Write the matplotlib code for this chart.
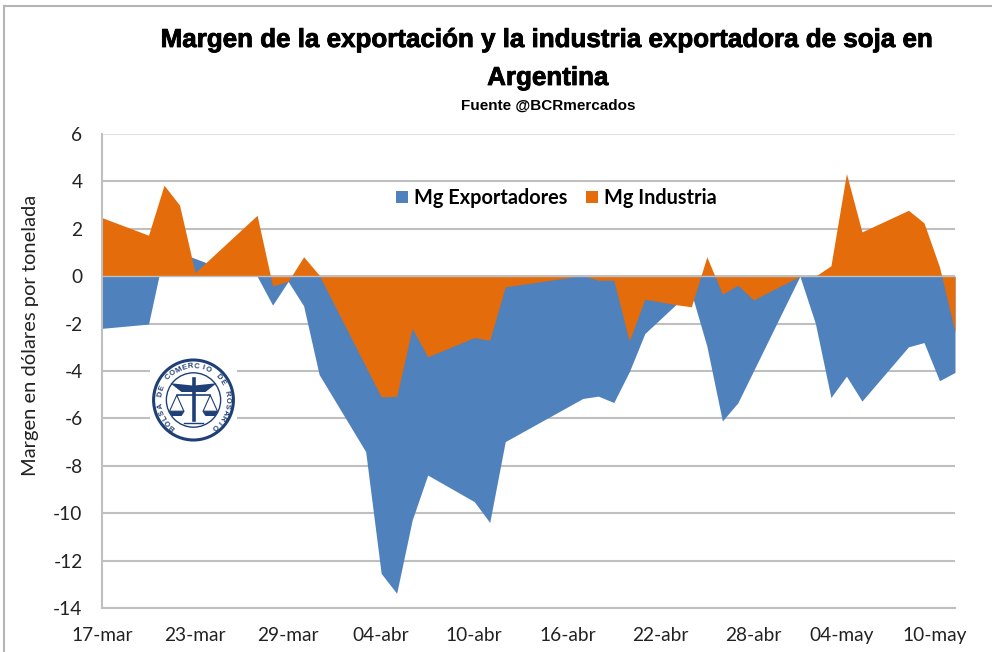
import numpy as np
import matplotlib
matplotlib.use('Agg')
import matplotlib.pyplot as plt
import matplotlib.patheffects as pe
from matplotlib.lines import Line2D
from matplotlib.patches import Circle, Polygon

plt.rcParams['axes.unicode_minus'] = False

# dias contados desde el 17-mar
dias_exp = [0, 3, 4, 5, 6, 7, 10, 11, 12, 13, 14, 17, 18, 19, 20, 21, 24, 25, 26,
            31, 32, 33, 34, 35, 37, 38, 39, 40, 41, 45, 46, 47, 48, 49, 52, 53, 54, 55]
mg_exportadores = [-2.2, -2.02, 1.0, 1.0, 0.75, 0.5, 0.0, -1.22, -0.22, -1.25, -4.15,
                   -7.4, -12.54, -13.38, -10.29, -8.39, -9.51, -10.39, -6.98,
                   -5.16, -5.06, -5.33, -4.03, -2.42, -1.2, -0.7, -2.95, -6.11, -5.34,
                   0.0, -2.0, -5.12, -4.22, -5.27, -2.98, -2.8, -4.41, -4.06]

dias_ind = [0, 3, 4, 5, 6, 10, 11, 12, 13, 14, 18, 19, 20, 21, 24, 25, 26,
            31, 32, 33, 34, 35, 37, 38, 39, 40, 41, 42, 45, 46, 47, 48, 49, 52, 53, 54, 55]
mg_industria = [2.47, 1.73, 3.84, 3.0, 0.15, 2.57, -0.41, -0.22, 0.82, 0.05, -5.09, -5.07,
                -2.2, -3.4, -2.59, -2.7, -0.45, 0.03, -0.17, -0.17, -2.74, -0.97, -1.2,
                -1.29, 0.82, -0.76, -0.38, -1.0, 0.0, 0.0, 0.44, 4.33, 1.87, 2.78, 2.25,
                0.39, -2.35]

etiquetas_x = ['17-mar', '23-mar', '29-mar', '04-abr', '10-abr', '16-abr', '22-abr',
               '28-abr', '04-may', '10-may']
pos_x = [0, 6, 12, 18, 24, 30, 36, 42, 47.7, 53.7]

azul = '#4F81BD'
naranja = '#E46C0A'
gris = '#BFBFBF'
marino = '#1F3F77'
fuente = 'Lato'
fuente_titulo = 'Liberation Sans'

W, H = 992, 652
fig = plt.figure(figsize=(W / 100, H / 100), dpi=100)
ax = fig.add_axes([102 / W, (H - 608) / H, 853 / W, 474 / H])

a_exp = ax.fill_between(dias_exp, mg_exportadores, 0, color=azul, lw=0, zorder=2,
                        label='Mg Exportadores')
a_ind = ax.fill_between(dias_ind, mg_industria, 0, color=naranja, lw=0, zorder=2.5,
                        label='Mg Industria')
ax.axhline(0, color=gris, lw=1, zorder=3)

ax.set_xlim(0, 55)
ax.set_ylim(-14, 6)
ax.set_yticks(np.arange(-14, 7, 2))
ax.set_xticks(pos_x)
ax.set_xticklabels(etiquetas_x)
ax.tick_params(axis='both', length=0, labelsize=13.8, labelcolor='#222222')
ax.tick_params(axis='y', pad=14)
ax.tick_params(axis='x', pad=14)
for t in ax.get_xticklabels() + ax.get_yticklabels():
    t.set_fontfamily(fuente)

ax.grid(axis='y', color=gris, lw=1.5)
ax.set_axisbelow(True)
ax.get_ygridlines()[-1].set_color('#E2E2E2')
for s in ['top', 'right']:
    ax.spines[s].set_visible(False)
for s in ['left', 'bottom']:
    ax.spines[s].set_color(gris)
    ax.spines[s].set_linewidth(1.5)

leg = ax.legend(handles=[a_exp, a_ind], loc='center', bbox_to_anchor=(556.5 / W, (H - 198) / H),
                bbox_transform=fig.transFigure, ncol=2, frameon=False, handlelength=0.6,
                handleheight=0.6, handletextpad=0.3, columnspacing=0.93,
                prop={'family': fuente, 'size': 14.3, 'weight': 'bold'})

# titulos
engorde = [pe.withStroke(linewidth=0.6, foreground='black')]
fig.text(548 / W, 1 - 40 / H, 'Margen de la exportación y la industria exportadora de soja en',
         ha='center', va='center', family=fuente_titulo, weight='bold', size=18.7,
         path_effects=engorde)
fig.text(548 / W, 1 - 78 / H, 'Argentina', ha='center', va='center', family=fuente_titulo,
         weight='bold', size=18.7, path_effects=engorde)
fig.text(548 / W, 1 - 106 / H, 'Fuente @BCRmercados', ha='center', va='center',
         family=fuente_titulo, weight='bold', size=11)
fig.text(31 / W, 1 - 335 / H, 'Margen en dólares por tonelada', rotation=90, ha='center',
         va='center', family=fuente, size=14.5, color='#222222')

# marco de la imagen
fig.add_artist(Line2D([4 / W, 4 / W], [0, 1 - 6 / H], color='#B5B5B5', lw=1.5))
fig.add_artist(Line2D([4 / W, 1], [1 - 6 / H, 1 - 6 / H], color='#B5B5B5', lw=1.5))

# logo de la bolsa
lg = fig.add_axes([150 / W, (H - 442) / H, 87 / W, 90 / H], zorder=5)
lg.set_xlim(-1.09, 1.09)
lg.set_ylim(-1.05, 1.2)
lg.axis('off')
lg.add_patch(Polygon([[-1.09, -1.05], [1.09, -1.05], [1.09, 1.2], [-1.09, 1.2]], color='white', lw=0))
lg.add_patch(Circle((0, 0), 1.0, fill=False, ec=marino, lw=2.2))
lg.add_patch(Circle((0, 0), 0.68, fill=False, ec=marino, lw=1))
texto_logo = 'BOLSA DE COMERCIO DE ROSARIO'
angulos = np.linspace(232, -52, len(texto_logo))
for c, a in zip(texto_logo, angulos):
    r = np.radians(a)
    lg.text(0.84 * np.cos(r), 0.84 * np.sin(r), c, rotation=a - 90, ha='center', va='center',
            size=5.5, weight='bold', color=marino, family='Liberation Sans')
lg.add_patch(Polygon([[0, 0.36], [-0.58, 0.42], [-0.3, 0.2], [0, 0.2], [0.3, 0.2], [0.58, 0.42]],
                     color=marino, lw=0))
lg.plot([0, 0], [-0.5, 0.52], color=marino, lw=2.6)
lg.plot([-0.42, 0.42], [0.12, 0.12], color=marino, lw=1.2)
for lado in [-1, 1]:
    lg.add_patch(Polygon([[lado * 0.42, 0.12], [lado * 0.6, -0.28], [lado * 0.24, -0.28]],
                         fill=False, ec=marino, lw=0.8))
    lg.add_patch(Polygon([[lado * 0.62, -0.28], [lado * 0.22, -0.28], [lado * 0.3, -0.4],
                          [lado * 0.54, -0.4]], color=marino, lw=0))
lg.plot([-0.25, 0.25], [-0.58, -0.58], color=marino, lw=1)

fig.savefig('out.png', dpi=100)
